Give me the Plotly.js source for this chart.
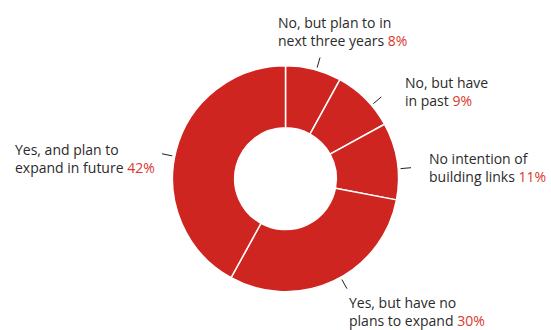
<!DOCTYPE html>
<html>
<head>
<meta charset="utf-8">
<script src="https://cdn.plot.ly/plotly-3.0.1.min.js"></script>
<style>html,body{margin:0;padding:0;background:#fff;}#chart{width:551px;height:330px;}</style>
</head>
<body>
<div id="chart"></div>
<script>
// Data
var categories = [
  "No, but plan to in<br>next three years",
  "No, but have<br>in past",
  "No intention of<br>building links",
  "Yes, but have no<br>plans to expand",
  "Yes, and plan to<br>expand in future"
];
var values = [8, 9, 11, 30, 42];

// Layout / style settings (pixels)
var W = 551, H = 330;
var cx = 285.5, cy = 178.7, R = 113;
var labelPos = [            // left edge x, vertical middle y of each label block
  [276, 31], [403, 91], [427, 167], [347, 311], [13, 158]
];
var tickNudge = [1.5, 4.5, 4, -4, -3];   // degrees, leader tick placement tweak
var sliceColor = "#cf2520", pctColor = "#d9372b", textColor = "#2b2b2b";

var total = values.reduce(function(a, b){ return a + b; }, 0);
var shapes = [], annotations = [];
var cum = 0;
values.forEach(function(v, i){
  var mid = (cum + v / 2) / total * 360 + tickNudge[i];
  cum += v;
  var a = mid * Math.PI / 180;
  var r1 = R + 2.5, r2 = R + 13;
  var x1 = cx + r1 * Math.sin(a), y1 = cy - r1 * Math.cos(a);
  var x2 = cx + r2 * Math.sin(a), y2 = cy - r2 * Math.cos(a);
  shapes.push({type: "line", xref: "paper", yref: "paper",
    x0: x1 / W, y0: 1 - y1 / H, x1: x2 / W, y1: 1 - y2 / H,
    line: {color: "#222", width: 1}});
  annotations.push({xref: "paper", yref: "paper",
    x: labelPos[i][0] / W, y: 1 - labelPos[i][1] / H,
    xanchor: "left", yanchor: "middle", align: "left", showarrow: false,
    text: categories[i] + " <span style='color:" + pctColor + "'>" + Math.round(v / total * 100) + "%</span>",
    font: {family: "Open Sans, sans-serif", size: 14, color: textColor}});
});

var trace = {
  type: "pie",
  values: values,
  labels: categories,
  sort: false,
  direction: "clockwise",
  rotation: 0,
  hole: 0.45,
  textinfo: "none",
  hoverinfo: "none",
  marker: {colors: values.map(function(){ return sliceColor; }), line: {color: "#ffffff", width: 1.5}},
  domain: {x: [(cx - R) / W, (cx + R) / W], y: [1 - (cy + R) / H, 1 - (cy - R) / H]}
};

var layout = {
  width: W, height: H,
  margin: {l: 0, r: 0, t: 0, b: 0},
  paper_bgcolor: "#ffffff",
  showlegend: false,
  shapes: shapes,
  annotations: annotations
};

Plotly.newPlot("chart", [trace], layout, {displayModeBar: false, staticPlot: true});
</script>
</body>
</html>
